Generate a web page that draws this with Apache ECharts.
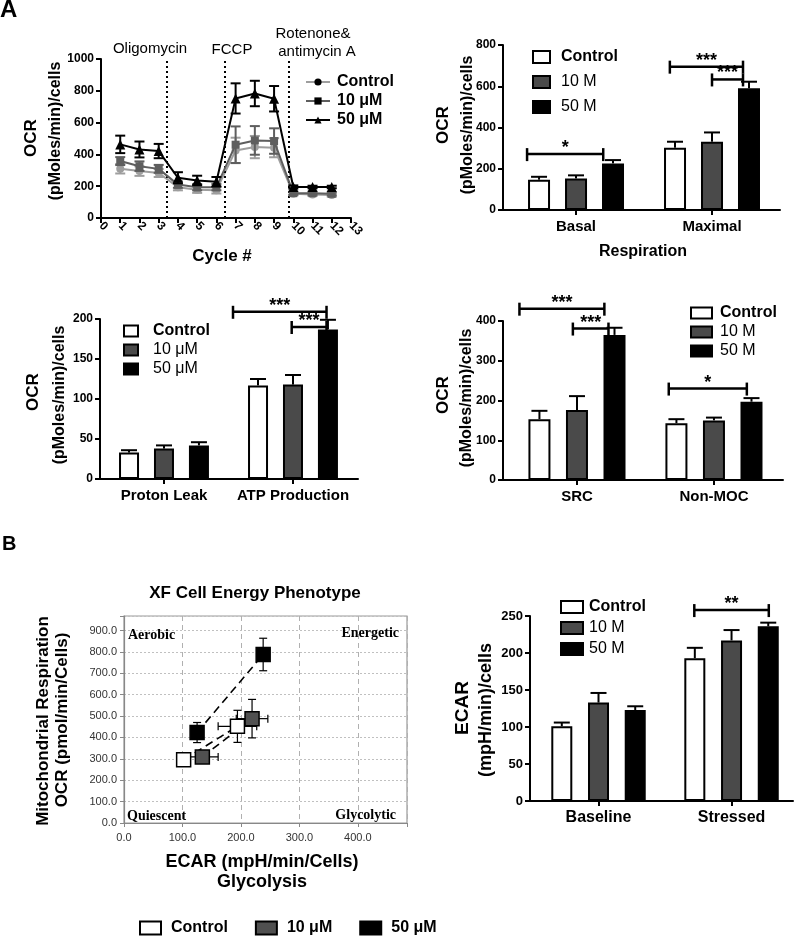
<!DOCTYPE html>
<html><head><meta charset="utf-8">
<script src="https://cdn.jsdelivr.net/npm/echarts@6/dist/echarts.min.js"></script>
<style>html,body{margin:0;padding:0;background:#fff}#c{width:800px;height:938px}</style>
</head><body><div id="c"></div>
<script>
// ---------------- data ----------------
// Panel A1: OCR kinetic trace
const cycles = [1,2,3,4,5,6,7,8,9,10,11,12];
const ocrControl    = [310,295,283,194,178,174,425,446,442,152,148,144];
const ocrControlErr = [30,30,25,20,20,20,80,70,60,10,10,10];
const ocr10         = [358,326,309,210,194,194,461,488,484,156,156,152];
const ocr10Err      = [25,30,25,20,20,20,115,90,80,10,10,10];
const ocr50         = [463,431,421,253,236,228,752,783,750,195,195,195];
const ocr50Err      = [55,50,45,35,30,30,95,80,80,10,8,8];
const injections    = [3.43, 6.45, 9.74];

// Panel A2: Basal / Maximal respiration
const respCats = ['Basal','Maximal'];
const respControl = [147,302];  const respControlErr = [14,29];
const resp10      = [153,331];  const resp10Err      = [15,45];
const resp50      = [226,590];  const resp50Err      = [16,32];
const respSig     = ['*','***','***'];

// Panel A3: Proton leak / ATP production
const leakCats = ['Proton Leak','ATP Production'];
const leakControl = [33,117];   const leakControlErr = [3,8];
const leak10      = [38,118];   const leak10Err      = [4,12];
const leak50      = [42,187];   const leak50Err      = [4,12];
const leakSig     = ['***','***'];

// Panel A4: SRC / Non-MOC
const srcCats = ['SRC','Non-MOC'];
const srcControl = [153,143];   const srcControlErr = [21,10];
const src10      = [176,150];   const src10Err      = [35,7];
const src50      = [365,197];   const src50Err      = [18,9];
const srcSig     = ['***','***','*'];

// Panel B1: energy phenotype (ECAR, OCR) baseline -> stressed
const phenoControl    = [[102,296],[194,452]];
const phenoControlErr = [[8,30],[33,75]];
const pheno10         = [[134,309],[219,488]];
const pheno10Err      = [[27,25],[27,90]];
const pheno50         = [[125,423],[238,788]];
const pheno50Err      = [[5,47],[10,76]];

// Panel B2: ECAR baseline / stressed
const ecarCats = ['Baseline','Stressed'];
const ecarControl = [101,193];  const ecarControlErr = [5,14];
const ecar10      = [133,217];  const ecar10Err      = [13,14];
const ecar50      = [123,236];  const ecar50Err      = [5,5];
const ecarSig     = ['**'];

// ---------------- helpers ----------------
const SANS = '"Liberation Sans", Arial, Helvetica, sans-serif';
const SERIF = '"Liberation Serif", "Times New Roman", serif';
const BAR_COLORS = ['#ffffff','#4a4a4a','#000000'];

function yAxisCfg(gi, max, interval, fs) {
  return {gridIndex: gi, type: 'value', min: 0, max: max, interval: interval,
    axisLine: {show: true, onZero: false, lineStyle: {color: '#000', width: 2}},
    axisTick: {show: true, length: 5, lineStyle: {color: '#000', width: 2}},
    axisLabel: {formatter: v => String(v), fontFamily: SANS, fontWeight: 'bold', fontSize: fs || 12, color: '#000', margin: 7},
    splitLine: {show: false}};
}
function catXAxis(gi, min, max, cats) {
  const pos = cats.map((c, i) => i);
  return {gridIndex: gi, type: 'value', min: min, max: max,
    axisLine: {show: true, onZero: false, lineStyle: {color: '#000', width: 2}},
    axisTick: {show: true, customValues: pos, length: 5, lineStyle: {color: '#000', width: 2}},
    axisLabel: {customValues: pos, formatter: v => cats[Math.round(v)], fontFamily: SANS,
      fontWeight: 'bold', fontSize: 15, color: '#000', margin: 9},
    splitLine: {show: false}};
}
function barSeries(gi, name, vals, off, color, bw) {
  return {type: 'bar', name: name, xAxisIndex: gi, yAxisIndex: gi,
    data: vals.map((v, i) => [i + off, v]), barWidth: bw, barGap: '-100%',
    itemStyle: {color: color, borderColor: '#000', borderWidth: 2}, z: 2, silent: true};
}
function errSeries(gi, xs, vals, errs, color, cap, twoSided, lw, z) {
  return {type: 'custom', xAxisIndex: gi, yAxisIndex: gi, clip: false, silent: true, z: z || 3,
    data: vals.map((v, i) => [xs[i], v, errs[i]]), encode: {x: 0, y: 1},
    renderItem: function (params, api) {
      const x = api.value(0), y = api.value(1), e = api.value(2);
      const c = api.coord([x, y]), hi = api.coord([x, y + e]), lo = api.coord([x, y - e]);
      const st = {stroke: color, lineWidth: lw};
      const ch = [
        {type: 'line', shape: {x1: c[0], y1: twoSided ? lo[1] : c[1], x2: c[0], y2: hi[1]}, style: st},
        {type: 'line', shape: {x1: c[0] - cap, y1: hi[1], x2: c[0] + cap, y2: hi[1]}, style: st}
      ];
      if (twoSided) ch.push({type: 'line', shape: {x1: c[0] - cap, y1: lo[1], x2: c[0] + cap, y2: lo[1]}, style: st});
      return {type: 'group', children: ch};
    }};
}
function bracketSeries(gi, spans, labels) {
  return {type: 'custom', xAxisIndex: gi, yAxisIndex: gi, clip: false, silent: true, z: 4,
    data: spans, encode: {x: [0, 1], y: 2},
    renderItem: function (params, api) {
      const a = api.coord([api.value(0), api.value(2)]);
      const b = api.coord([api.value(1), api.value(2)]);
      const st = {stroke: '#000', lineWidth: 2.5};
      return {type: 'group', children: [
        {type: 'line', shape: {x1: a[0], y1: a[1], x2: b[0], y2: b[1]}, style: st},
        {type: 'line', shape: {x1: a[0], y1: a[1] - 6, x2: a[0], y2: a[1] + 7}, style: st},
        {type: 'line', shape: {x1: b[0], y1: b[1] - 6, x2: b[0], y2: b[1] + 7}, style: st},
        {type: 'text', x: (a[0] + b[0]) / 2, y: a[1] + 3, style: {text: labels[params.dataIndex],
          fontSize: 18, fontWeight: 'bold', fontFamily: SANS, fill: '#000', align: 'center', verticalAlign: 'bottom'}}
      ]};
    }};
}
function barPanel(gi, names, groups, off, bw, spans, sig) {
  const out = [];
  const offs = [-off, 0, off];
  groups.forEach((g, k) => out.push(barSeries(gi, names[k], g[0], offs[k], BAR_COLORS[k], bw)));
  groups.forEach((g, k) => out.push(errSeries(gi, g[0].map((v, i) => i + offs[k]), g[0], g[1], '#000', 8, false, 2, 3)));
  out.push(bracketSeries(gi, spans, sig));
  return out;
}
function legendCfg(names, left, top, iw, ih, gap, padLeft, boldAll, icon) {
  return {orient: 'vertical', left: left, top: top, padding: 0, itemWidth: iw, itemHeight: ih, itemGap: gap,
    icon: icon, selectedMode: false, data: names,
    itemStyle: icon === 'rect' ? {borderColor: '#000', borderWidth: 2} : undefined,
    formatter: n => { const t = n.split('#')[0]; return (boldAll || t === 'Control') ? '{b|' + t + '}' : '{n|' + t + '}'; },
    textStyle: {padding: [0, 0, 0, padLeft], rich: {
      b: {fontFamily: SANS, fontWeight: 'bold', fontSize: 16, color: '#000'},
      n: {fontFamily: SANS, fontWeight: 'normal', fontSize: 16, color: '#000'}}}};
}

// ---------------- series ----------------
const series = [];
// A1 line chart
const lineDefs = [
  ['Control#1', ocrControl, ocrControlErr, '#9e9e9e', 'circle', 8],
  ['10 μM#1', ocr10, ocr10Err, '#5e5e5e', 'rect', 8],
  ['50 μM#1', ocr50, ocr50Err, '#000000', 'triangle', 10]
];
lineDefs.forEach((d, k) => {
  series.push(errSeries(0, cycles, d[1], d[2], d[3], 5, true, 2, 3 + k * 2));
  const s = {type: 'line', name: d[0], xAxisIndex: 0, yAxisIndex: 0, z: 4 + k * 2,
    data: cycles.map((c, i) => [c, d[1][i]]), symbol: d[4], symbolSize: d[5], showSymbol: true,
    itemStyle: {color: d[3]}, lineStyle: {color: d[3], width: 2}, silent: true};
  if (k === 2) s.markLine = {silent: true, symbol: ['none', 'none'], label: {show: false},
    lineStyle: {type: [2, 3], color: '#000', width: 2}, data: injections.map(x => ({xAxis: x}))};
  series.push(s);
});
// A2, A3, A4, B2 bar charts
series.push(...barPanel(1, ['Control#2', '10 M#2', '50 M#2'],
  [[respControl, respControlErr], [resp10, resp10Err], [resp50, resp50Err]], 0.272, 22,
  [[-0.36, 0.2, 271], [0.69, 1.228, 695], [1.0, 1.228, 633]], respSig));
series.push(...barPanel(2, ['Control#3', '10 μM#3', '50 μM#3'],
  [[leakControl, leakControlErr], [leak10, leak10Err], [leak50, leak50Err]], 0.271, 20,
  [[0.535, 1.26, 209], [0.99, 1.26, 190]], leakSig));
series.push(...barPanel(3, ['Control#4', '10 M#4', '50 M#4'],
  [[srcControl, srcControlErr], [src10, src10Err], [src50, src50Err]], 0.274, 22,
  [[-0.42, 0.2, 431], [-0.03, 0.23, 381], [0.67, 1.24, 230]], srcSig));
series.push(...barPanel(5, ['Control#6', '10 M#6', '50 M#6'],
  [[ecarControl, ecarControlErr], [ecar10, ecar10Err], [ecar50, ecar50Err]], 0.276, 21,
  [[0.72, 1.28, 258]], ecarSig));
// B1 phenotype scatter
const phenoDefs = [
  ['Control#5', phenoControl, phenoControlErr, '#ffffff'],
  ['10 μM#5', pheno10, pheno10Err, '#505050'],
  ['50 μM#5', pheno50, pheno50Err, '#000000']
];
phenoDefs.forEach((d) => {
  series.push({type: 'line', name: 'link-' + d[0], xAxisIndex: 4, yAxisIndex: 4, data: d[1], symbol: 'none',
    lineStyle: {color: '#000', width: 1.6, type: [8, 5]}, z: 3, silent: true});
  series.push({type: 'custom', xAxisIndex: 4, yAxisIndex: 4, clip: false, silent: true, z: 4,
    data: d[1].map((p, i) => [p[0], p[1], d[2][i][0], d[2][i][1]]), encode: {x: 0, y: 1},
    renderItem: function (params, api) {
      const x = api.value(0), y = api.value(1), ex = api.value(2), ey = api.value(3);
      const t = api.coord([x, y + ey]), b = api.coord([x, y - ey]);
      const l = api.coord([x - ex, y]), r = api.coord([x + ex, y]);
      const st = {stroke: '#000', lineWidth: 1.2};
      return {type: 'group', children: [
        {type: 'line', shape: {x1: t[0], y1: t[1], x2: b[0], y2: b[1]}, style: st},
        {type: 'line', shape: {x1: t[0] - 4, y1: t[1], x2: t[0] + 4, y2: t[1]}, style: st},
        {type: 'line', shape: {x1: b[0] - 4, y1: b[1], x2: b[0] + 4, y2: b[1]}, style: st},
        {type: 'line', shape: {x1: l[0], y1: l[1], x2: r[0], y2: r[1]}, style: st},
        {type: 'line', shape: {x1: l[0], y1: l[1] - 4, x2: l[0], y2: l[1] + 4}, style: st},
        {type: 'line', shape: {x1: r[0], y1: r[1] - 4, x2: r[0], y2: r[1] + 4}, style: st}
      ]};
    }});
  series.push({type: 'scatter', name: d[0], xAxisIndex: 4, yAxisIndex: 4, data: d[1], symbol: 'rect',
    symbolSize: 14, itemStyle: {color: d[3], borderColor: '#000', borderWidth: 1.5, opacity: 1}, z: 5, silent: true});
});

// ---------------- axes / grids ----------------
const grids = [
  {left: 101, top: 59, width: 250, height: 159},
  {left: 503, top: 45, width: 277, height: 165},
  {left: 100, top: 319, width: 258, height: 160},
  {left: 503, top: 321, width: 280, height: 159},
  {left: 124, top: 616, width: 283, height: 207, show: true, borderColor: '#9a9a9a', borderWidth: 1.2},
  {left: 530, top: 616, width: 263, height: 185}
].map(g => Object.assign({containLabel: false, outerBoundsMode: 'none'}, g));

const ecarX = catXAxis(5, -0.515, 1.462, ecarCats);
ecarX.axisLabel.fontSize = 16;
const xAxes = [
  {gridIndex: 0, type: 'value', min: 0, max: 13, interval: 1,
    axisLine: {show: true, onZero: false, lineStyle: {color: '#000', width: 2}},
    axisTick: {show: true, length: 5, lineStyle: {color: '#000', width: 2}},
    axisLabel: {rotate: -45, fontFamily: SANS, fontWeight: 'bold', fontSize: 12, color: '#000', margin: 6},
    splitLine: {show: false}},
  catXAxis(1, -0.537, 1.5, respCats),
  catXAxis(2, -0.496, 1.504, leakCats),
  catXAxis(3, -0.54, 1.504, srcCats),
  {gridIndex: 4, type: 'value', min: 0, max: 484, interval: 100,
    axisLine: {show: true, onZero: false, lineStyle: {color: '#888', width: 1.2}},
    axisTick: {show: true, length: 4, lineStyle: {color: '#888'}},
    axisLabel: {formatter: v => (v % 100 === 0 ? v.toFixed(1) : ''), fontFamily: SANS, fontSize: 11, color: '#333', margin: 9},
    splitLine: {show: true, lineStyle: {color: '#b0b0b0', type: [5, 4], width: 1}}},
  ecarX
];
const yAxes = [
  yAxisCfg(0, 1000, 200),
  yAxisCfg(1, 800, 200),
  yAxisCfg(2, 200, 50),
  yAxisCfg(3, 400, 100),
  {gridIndex: 4, type: 'value', min: 0, max: 968, interval: 100,
    axisLine: {show: true, onZero: false, lineStyle: {color: '#888', width: 1.2}},
    axisTick: {show: true, length: 4, lineStyle: {color: '#888'}},
    axisLabel: {formatter: v => (v % 100 === 0 ? v.toFixed(1) : ''), fontFamily: SANS, fontSize: 11, color: '#333', margin: 7},
    splitLine: {show: true, lineStyle: {color: '#c0c0c0', type: [2, 2], width: 1}}},
  yAxisCfg(5, 250, 50, 13)
];

// ---------------- legends ----------------
const legends = [
  legendCfg(['Control#1', '10 μM#1', '50 μM#1'], 305, 74, 24, 9, 3, 2, true, undefined),
  legendCfg(['Control#2', '10 M#2', '50 M#2'], 532, 49, 17, 12, 9, 6, false, 'rect'),
  legendCfg(['Control#3', '10 μM#3', '50 μM#3'], 123, 323, 14, 11, 3, 10, false, 'rect'),
  legendCfg(['Control#4', '10 M#4', '50 M#4'], 690, 305, 21, 11, 3, 3, false, 'rect'),
  legendCfg(['Control#6', '10 M#6', '50 M#6'], 560, 599, 22, 12, 5, 1, false, 'rect'),
  Object.assign(legendCfg(['Control#5', '10 μM#5', '50 μM#5'], 139, 920, 21, 13, 27, 5, true, 'rect'), {orient: 'horizontal'})
];

// ---------------- free text ----------------
function txt(t, x, y, size, weight, align, vAlign, rot, family) {
  return {type: 'text', x: x, y: y, rotation: rot || 0, silent: true, z: 10,
    style: {text: t, fontSize: size, fontWeight: weight, fontFamily: family || SANS, fill: '#000',
      align: align || 'center', verticalAlign: vAlign || 'middle'}};
}
const R = Math.PI / 2;
const graphics = [
  txt('A', 0, -2, 24, 'bold', 'left', 'top'),
  txt('B', 2, 534, 20, 'bold', 'left', 'top'),
  txt('Oligomycin', 150, 49, 15, 'normal'),
  txt('FCCP', 232, 50, 15, 'normal'),
  txt('Rotenone&', 313, 34, 15, 'normal'),
  txt('antimycin A', 317, 52, 15, 'normal'),
  txt('Cycle #', 222, 256, 17, 'bold'),
  txt('Respiration', 643, 252, 16, 'bold'),
  txt('XF Cell Energy Phenotype', 255, 593, 17, 'bold'),
  txt('ECAR (mpH/min/Cells)', 262, 862, 18, 'bold'),
  txt('Glycolysis', 262, 882, 18, 'bold'),
  txt('Aerobic', 128, 635, 14, 'bold', 'left', 'middle', 0, SERIF),
  txt('Energetic', 399, 633, 14, 'bold', 'right', 'middle', 0, SERIF),
  txt('Quiescent', 127, 816, 14, 'bold', 'left', 'middle', 0, SERIF),
  txt('Glycolytic', 396, 815, 14, 'bold', 'right', 'middle', 0, SERIF),
  txt('OCR', 31, 138, 17, 'bold', 'center', 'middle', R),
  txt('(pMoles/min)/cells', 56, 131, 16, 'bold', 'center', 'middle', R),
  txt('OCR', 443, 125, 17, 'bold', 'center', 'middle', R),
  txt('(pMoles/min)/cells', 468, 125, 16, 'bold', 'center', 'middle', R),
  txt('OCR', 33, 392, 17, 'bold', 'center', 'middle', R),
  txt('(pMoles/min)/cells', 60, 395, 16, 'bold', 'center', 'middle', R),
  txt('OCR', 443, 395, 17, 'bold', 'center', 'middle', R),
  txt('(pMoles/min)/cells', 467, 398, 16, 'bold', 'center', 'middle', R),
  txt('ECAR', 463, 708, 19, 'bold', 'center', 'middle', R),
  txt('(mpH/min)/cells', 486, 710, 18, 'bold', 'center', 'middle', R),
  txt('Mitochondrial Respiration', 43, 721, 17, 'bold', 'center', 'middle', R),
  txt('OCR (pmol/min/Cells)', 62, 720, 17, 'bold', 'center', 'middle', R)
];

const chart = echarts.init(document.getElementById('c'), null, {renderer: 'canvas', width: 800, height: 938});
chart.setOption({
  animation: false,
  backgroundColor: '#ffffff',
  grid: grids, xAxis: xAxes, yAxis: yAxes,
  legend: legends, series: series, graphic: graphics
});
</script></body></html>
